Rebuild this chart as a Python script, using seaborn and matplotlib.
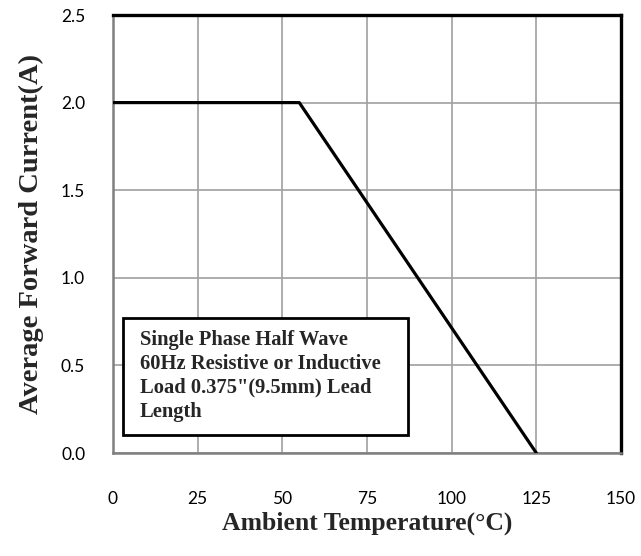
import matplotlib
matplotlib.use("Agg")
import matplotlib.pyplot as plt
import seaborn as sns
import pandas as pd
from matplotlib.patches import Rectangle

temps = [0, 55, 125]
current = [2.0, 2.0, 0.0]
x_ticks = [0, 25, 50, 75, 100, 125, 150]
y_ticks = [0.0, 0.5, 1.0, 1.5, 2.0, 2.5]
note_lines = ["Single Phase Half Wave", "60Hz Resistive or Inductive",
              "Load 0.375\"(9.5mm) Lead", "Length"]

sns.set_theme(style="white")
plt.rcParams['font.family'] = ['Lato', 'DejaVu Sans']

df = pd.DataFrame({"T": temps, "I": current})

fig = plt.figure(figsize=(6.41, 5.56), dpi=100)
ax = fig.add_axes([113/641, 1-453/556, 508/641, 438/556])
sns.lineplot(data=df, x="T", y="I", ax=ax, color="black", linewidth=2.3, zorder=5)

ax.set_xlim(0, 150)
ax.set_ylim(0, 2.5)
ax.set_xticks(x_ticks)
ax.set_yticks(y_ticks)
ax.set_xticklabels([str(v) for v in x_ticks])
ax.set_yticklabels([f"{v:.1f}" for v in y_ticks])
ax.grid(True, color="#a0a0a0", linewidth=1.2)
ax.set_axisbelow(True)

for s in ["top", "right"]:
    ax.spines[s].set_color("black")
    ax.spines[s].set_linewidth(2.4)
for s in ["left", "bottom"]:
    ax.spines[s].set_color("#808080")
    ax.spines[s].set_linewidth(1.8)

ax.tick_params(axis="both", which="both", direction="out", length=5, width=1,
               color="#808080", labelsize=12.5, labelcolor="black")
ax.tick_params(axis="x", pad=22)
ax.tick_params(axis="y", pad=15)

serif = ['Liberation Serif', 'DejaVu Serif']
ax.set_xlabel("Ambient Temperature(°C)", fontsize=18.5, fontweight="bold",
              family=serif, labelpad=4)
ax.set_ylabel("Average Forward Current(A)", fontsize=20.5, fontweight="bold",
              family=serif, labelpad=12)

rect = Rectangle((10/508, 18/438), 285/508, 117/438, transform=ax.transAxes,
                 facecolor="white", edgecolor="black", linewidth=2, zorder=3)
ax.add_patch(rect)
ax.text(27/508, (453-330)/438, "\n".join(note_lines), transform=ax.transAxes,
        fontsize=14.8, fontweight="bold", family=serif, va="top", ha="left",
        linespacing=1.26, zorder=4)

fig.savefig("out.png", dpi=100)
